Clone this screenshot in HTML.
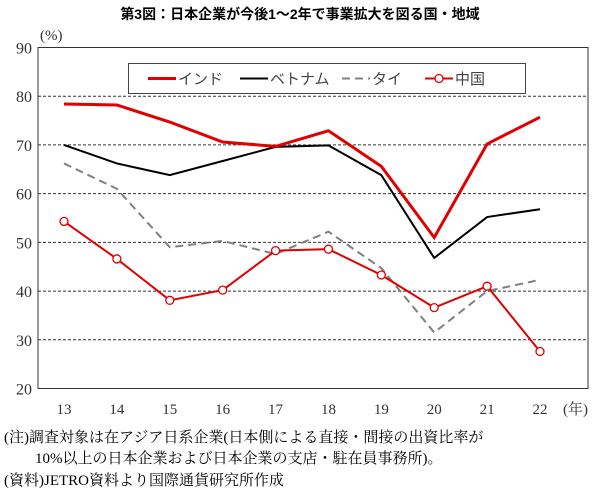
<!DOCTYPE html>
<html><head><meta charset="utf-8"><style>
body{margin:0;background:#fff;width:600px;height:495px;overflow:hidden}
svg{display:block}
.t{font-family:"Liberation Sans","Noto Sans CJK JP",sans-serif}
.s{font-family:"Liberation Serif","Noto Serif CJK SC",serif}
</style></head><body>
<svg id="c" width="600" height="495">
<text class="t" x="300" y="19" text-anchor="middle" font-size="14" font-weight="bold">第3図：日本企業が今後1～2年で事業拡大を図る国・地域</text>
<text class="s" x="40" y="40" font-size="15" fill="#333">(%)</text>
<text class="s" x="563" y="414" font-size="15" fill="#333">(年)</text>
<text class="s" x="4" y="442" font-size="15">(注)調査対象は在アジア日系企業(日本側による直接・間接の出資比率が</text>
<text class="s" x="35" y="463" font-size="15">10%以上の日本企業および日本企業の支店・駐在員事務所)。</text>
<text class="s" x="4" y="485" font-size="15">(資料)JETRO資料より国際通貨研究所作成</text>
</svg>
<script>
const years=['13','14','15','16','17','18','19','20','21','22'];
const india=[78.4,78.2,74.7,70.6,69.7,72.9,65.6,51.0,70.2,75.7];
const vietnam=[70.0,66.2,63.8,66.7,69.6,69.9,63.8,46.8,55.2,56.8];
const thailand=[66.2,61.0,49.0,50.3,47.6,52.2,44.7,31.5,40.0,42.3];
const china=[54.3,46.6,38.1,40.2,48.3,48.6,43.3,36.6,41.0,27.6];
const yTicks=[20,30,40,50,60,70,80,90];
const NS='http://www.w3.org/2000/svg';
const svg=document.getElementById('c');
const L=38,R=588,T=47.5,B=388.5;
const x=i=>64+i*(540-64)/(years.length-1);
const y=v=>B-(v-20)/70*(B-T);
function mk(tag,a,p){const e=document.createElementNS(NS,tag);for(const k in a)e.setAttribute(k,a[k]);(p||svg).appendChild(e);return e;}
yTicks.forEach(v=>{
  if(v>20&&v<90){const g=mk('line',{x1:L,x2:R,y1:y(v),y2:y(v),stroke:'#333','stroke-width':1,'stroke-dasharray':'3,2'});
  
  }
  const t=mk('text',{x:L-6,y:y(v)+6,'text-anchor':'end','font-size':16,fill:'#333',class:'s'});t.textContent=v;
  
  
});
const fr=mk('rect',{x:L,y:T,width:R-L,height:B-T,fill:'none',stroke:'#333','stroke-width':1});


years.forEach((yr,i)=>{const t=mk('text',{x:x(i),y:414,'text-anchor':'middle','font-size':15,fill:'#333',class:'s'});t.textContent=yr;
  
  });
function line(d,col,w,dash,name){const pts=d.map((v,i)=>x(i)+','+y(v)).join(' ');
  const p=mk('polyline',{points:pts,fill:'none',stroke:col,'stroke-width':w,'stroke-linejoin':'miter'});
  if(dash)p.setAttribute('stroke-dasharray',dash);
  
  return p;}
line(thailand,'#808080',2,'8,5','series-thailand');
line(vietnam,'#000',2,null,'series-vietnam');
line(india,'#e00000',3,null,'series-india');
line(china,'#e00000',2,null,'series-china');
china.forEach((v,i)=>{const c=mk('circle',{cx:x(i),cy:y(v),r:4,fill:'#fff',stroke:'#e00000','stroke-width':1.3});
  
  });
const lg=mk('g',{});


mk('rect',{x:128.5,y:63.5,width:397,height:30,fill:'#fff',stroke:'#444','stroke-width':1},lg);
const items=[['インド','#e00000',3,null,false,148],['ベトナム','#000',2,null,false,240],['タイ','#808080',2,'8,5',false,342],['中国','#e00000',2,null,true,425]];
items.forEach(it=>{const g=mk('g',{},lg);
  
  
  const l=mk('line',{x1:it[5],x2:it[5]+28,y1:78.5,y2:78.5,stroke:it[1],'stroke-width':it[2]},g);
  if(it[3])l.setAttribute('stroke-dasharray',it[3]);
  if(it[4])mk('circle',{cx:it[5]+14,cy:78.5,r:4,fill:'#fff',stroke:'#e00000','stroke-width':1.3},g);
  const t=mk('text',{x:it[5]+30,y:84,'font-size':15,fill:'#444',class:'t'},g);t.textContent=it[0];});
</script>
</body></html>
